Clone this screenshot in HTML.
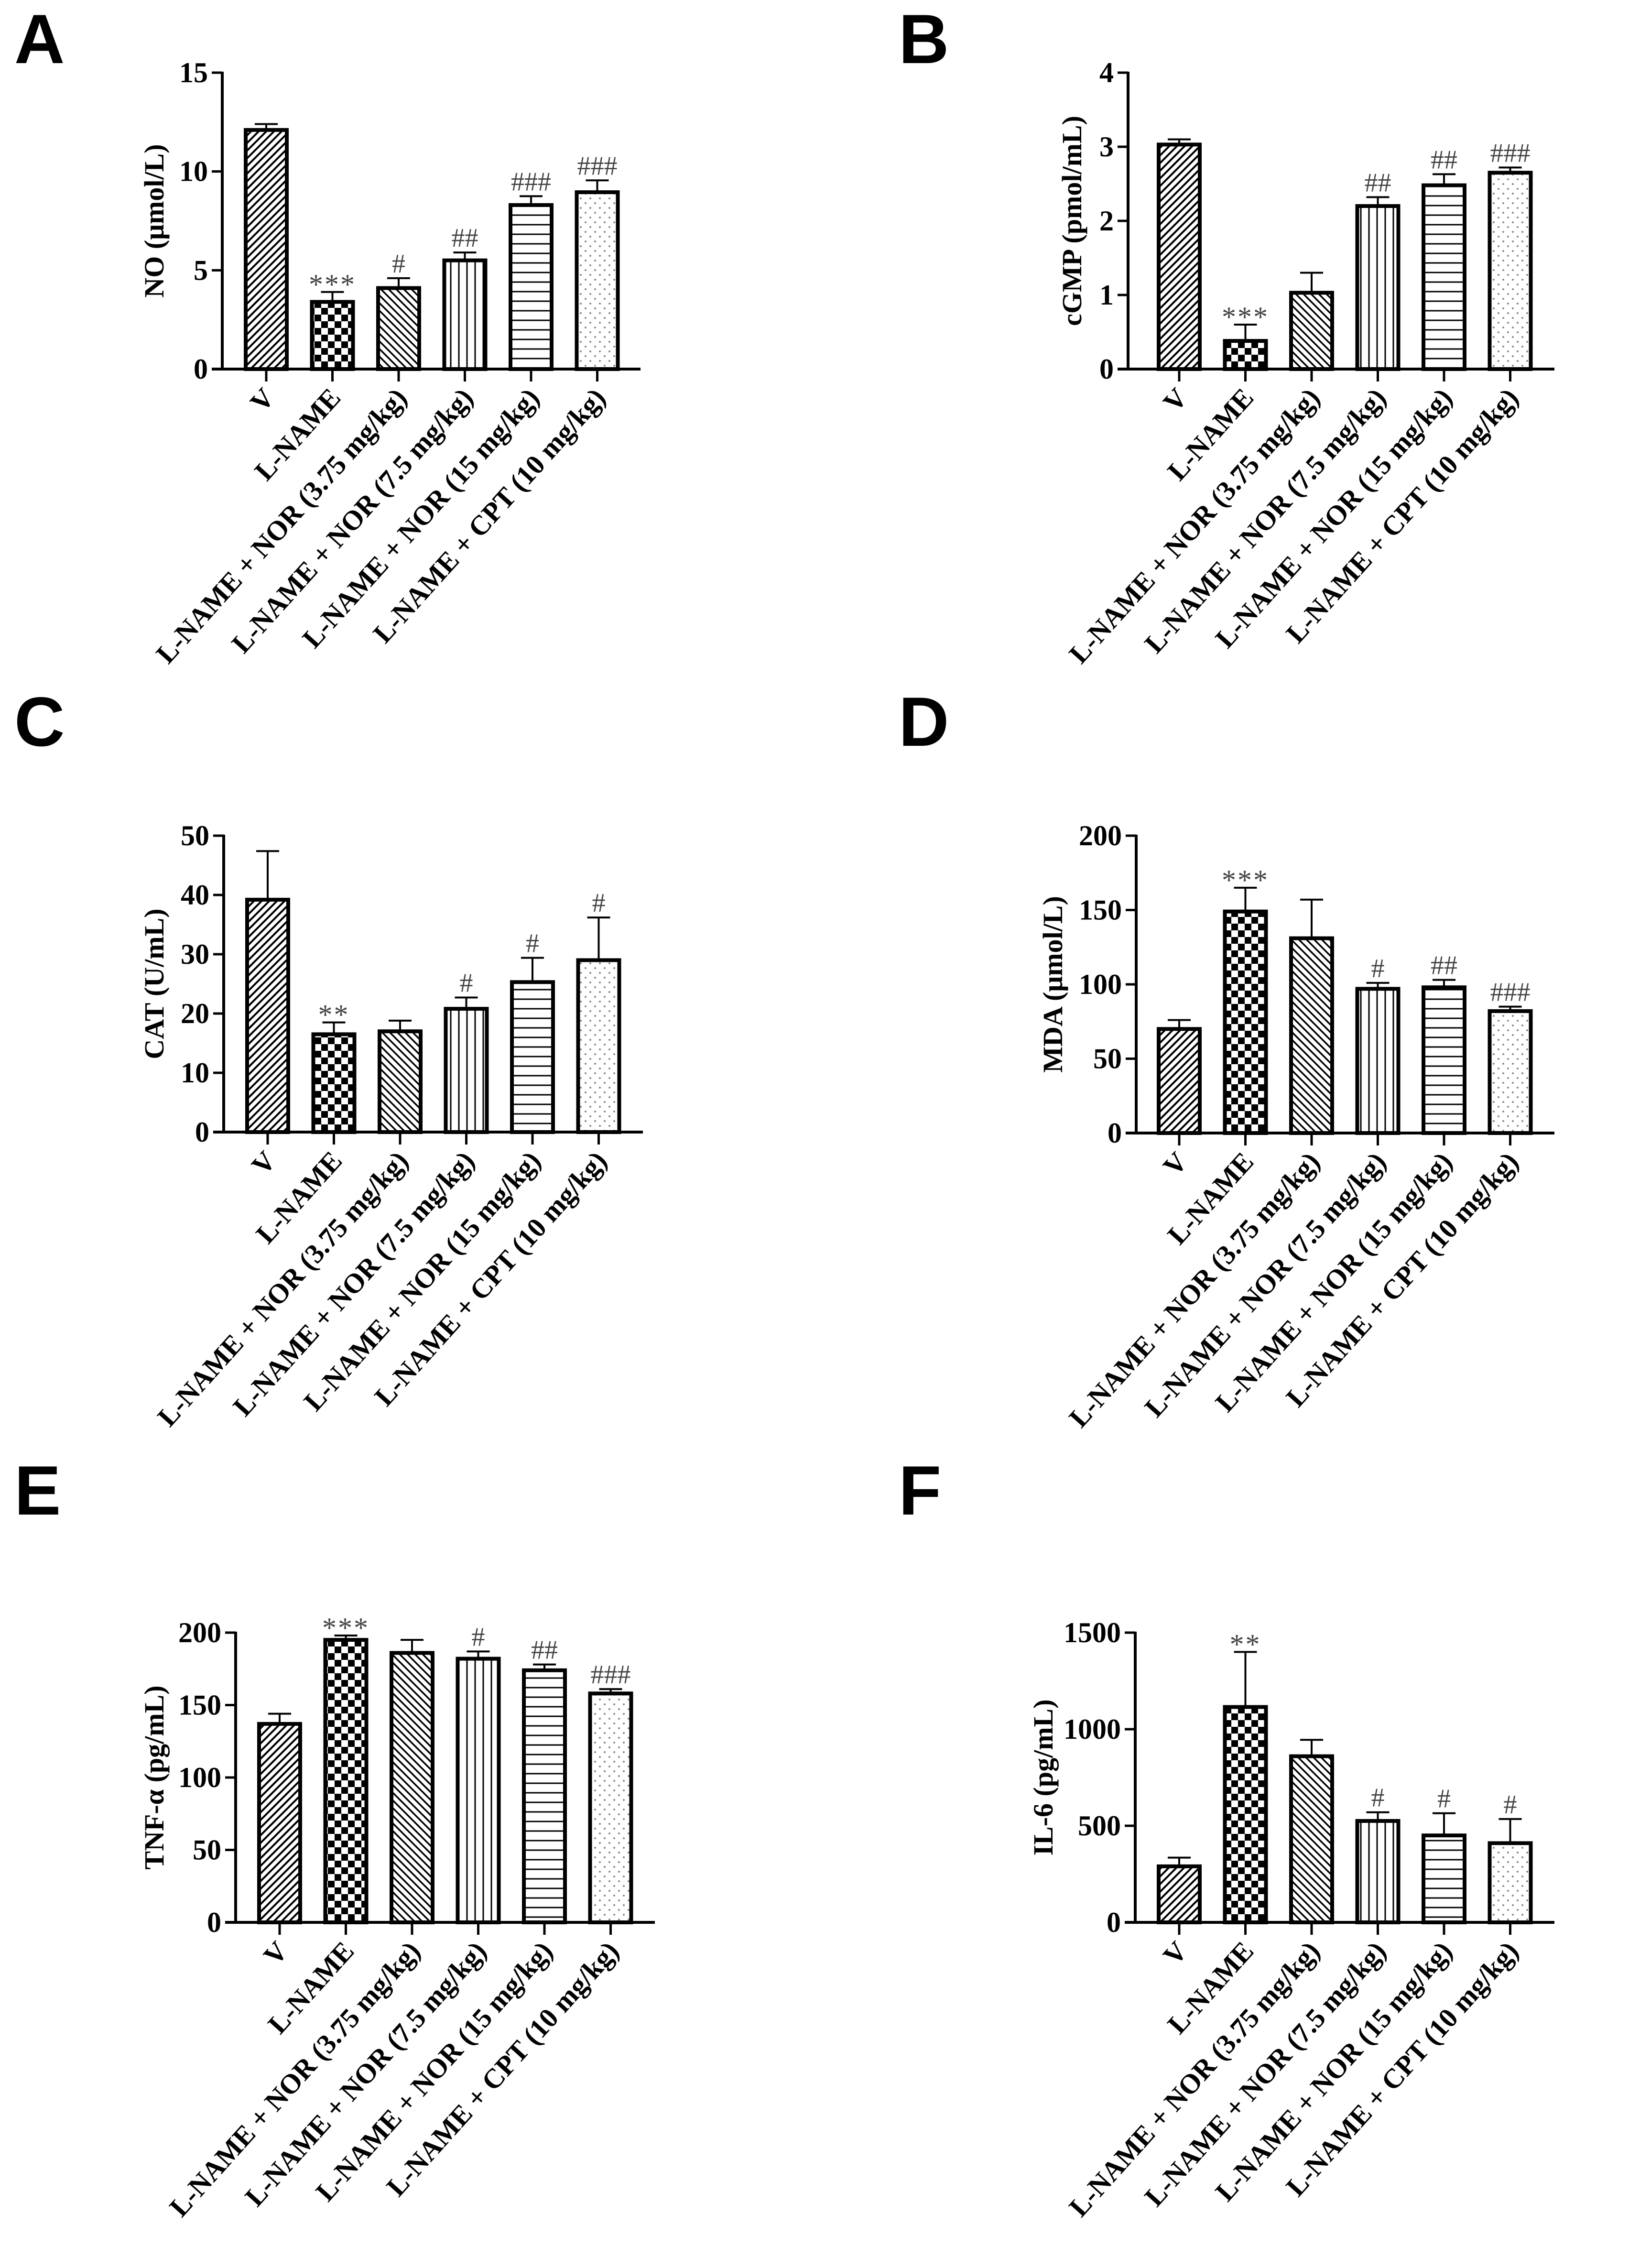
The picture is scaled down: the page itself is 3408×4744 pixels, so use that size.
<!DOCTYPE html>
<html><head><meta charset="utf-8"><style>
html,body{margin:0;padding:0;background:#fff;}
svg{display:block;}
</style></head><body>
<svg id="fig" xmlns="http://www.w3.org/2000/svg" width="3408" height="4744" viewBox="0 0 3408 4744">
<defs>
<pattern id="p-diag" patternUnits="userSpaceOnUse" width="16" height="16"><path d="M-4,4 l8,-8 M0,16 l16,-16 M12,20 l8,-8" stroke="#000" stroke-width="4"/></pattern>
<pattern id="p-check" patternUnits="userSpaceOnUse" width="28" height="28"><rect width="28" height="28" fill="#fff"/><rect width="14" height="14" fill="#000"/><rect x="14" y="14" width="14" height="14" fill="#000"/></pattern>
<pattern id="p-back" patternUnits="userSpaceOnUse" width="16" height="16"><path d="M-4,12 l8,8 M0,0 l16,16 M12,-4 l8,8" stroke="#000" stroke-width="3.5"/></pattern>
<pattern id="p-vert" patternUnits="userSpaceOnUse" width="17" height="17"><path d="M8,0 v17" stroke="#000" stroke-width="3"/></pattern>
<pattern id="p-horz" patternUnits="userSpaceOnUse" width="20" height="20"><path d="M0,10 h20" stroke="#000" stroke-width="3"/></pattern>
<pattern id="p-dot" patternUnits="userSpaceOnUse" width="20" height="20"><circle cx="5" cy="5" r="2" fill="#888"/><circle cx="15" cy="15" r="2" fill="#888"/></pattern>
</defs>
</svg>
<script>
const categories = ["V","L-NAME","L-NAME + NOR (3.75 mg/kg)","L-NAME + NOR (7.5 mg/kg)","L-NAME + NOR (15 mg/kg)","L-NAME + CPT (10 mg/kg)"];
const fills = ["p-diag","p-check","p-back","p-vert","p-horz","p-dot"];
const noValues = [12.1, 3.4, 4.1, 5.5, 8.3, 8.95];
const noErrors = [0.3, 0.5, 0.5, 0.4, 0.45, 0.6];
const noMarks = ["", "***", "#", "##", "###", "###"];
const noTicks = [0, 5, 10, 15];
const cgmpValues = [3.03, 0.38, 1.03, 2.2, 2.48, 2.65];
const cgmpErrors = [0.07, 0.22, 0.27, 0.12, 0.15, 0.07];
const cgmpMarks = ["", "***", "", "##", "##", "###"];
const cgmpTicks = [0, 1, 2, 3, 4];
const catValues = [39.2, 16.5, 17.0, 20.8, 25.3, 29.0];
const catErrors = [8.2, 2.0, 1.8, 1.9, 4.1, 7.2];
const catMarks = ["", "**", "", "#", "#", "#"];
const catTicks = [0, 10, 20, 30, 40, 50];
const mdaValues = [70, 149, 131, 97, 98, 82];
const mdaErrors = [6, 16, 26, 4, 5, 3];
const mdaMarks = ["", "***", "", "#", "##", "###"];
const mdaTicks = [0, 50, 100, 150, 200];
const tnfValues = [137, 195, 186, 182, 174, 158];
const tnfErrors = [7, 3, 9, 5, 4, 3];
const tnfMarks = ["", "***", "", "#", "##", "###"];
const tnfTicks = [0, 50, 100, 150, 200];
const il6Values = [290, 1115, 860, 525, 450, 410];
const il6Errors = [45, 285, 85, 45, 115, 125];
const il6Marks = ["", "**", "", "#", "#", "#"];
const il6Ticks = [0, 500, 1000, 1500];

const panels = [
 {letter:"A", lx:30, ly:132, ax:465, y0:772, yt:152, x1:1340, c0:557, title:"NO (μmol/L)", tx:322, v:noValues, e:noErrors, m:noMarks, t:noTicks},
 {letter:"B", lx:1880, ly:132, ax:2360, y0:772, yt:152, x1:3252, c0:2467, title:"cGMP (pmol/mL)", tx:2242, v:cgmpValues, e:cgmpErrors, m:cgmpMarks, t:cgmpTicks},
 {letter:"C", lx:30, ly:1560, ax:468, y0:2368, yt:1748, x1:1345, c0:560, title:"CAT (U/mL)", tx:322, v:catValues, e:catErrors, m:catMarks, t:catTicks},
 {letter:"D", lx:1880, ly:1560, ax:2377, y0:2370, yt:1748, x1:3252, c0:2467, title:"MDA (μmol/L)", tx:2202, v:mdaValues, e:mdaErrors, m:mdaMarks, t:mdaTicks},
 {letter:"E", lx:30, ly:3168, ax:493, y0:4021, yt:3415, x1:1370, c0:585, title:"TNF-α (pg/mL)", tx:322, v:tnfValues, e:tnfErrors, m:tnfMarks, t:tnfTicks},
 {letter:"F", lx:1880, ly:3168, ax:2375, y0:4021, yt:3415, x1:3252, c0:2467, title:"IL-6 (pg/mL)", tx:2182, v:il6Values, e:il6Errors, m:il6Marks, t:il6Ticks}
];
const NS = "http://www.w3.org/2000/svg";
const svg = document.getElementById("fig");
function mk(tag, attrs, parent){ const el=document.createElementNS(NS,tag); for(const k in attrs) el.setAttribute(k,attrs[k]); (parent||svg).appendChild(el); return el; }
const serif = '"Liberation Serif", serif';
const STEP = 138.5, BW = 86;
panels.forEach((p, pi) => {
  const g = mk("g", {});
  
  
  const max = p.t[p.t.length-1];
  const ys = v => p.y0 - v / max * (p.y0 - p.yt);
  const xs = i => p.c0 + i * STEP;
  const L = mk("text", {x:p.lx, y:p.ly, "font-family":'"Liberation Sans", sans-serif', "font-weight":"bold", "font-size":146}, g);
  L.textContent = p.letter;
  
  
  p.v.forEach((v, i) => {
    const cx = xs(i), top = ys(v), et = ys(v + p.e[i]);
    const eb = mk("path", {d:`M${cx},${top} V${et} M${cx-24},${et} H${cx+24}`, stroke:"#000", "stroke-width":4, fill:"none"}, g);
    
    
    const r = mk("rect", {x:cx-BW/2, y:top, width:BW, height:p.y0-top, fill:`url(#${fills[i]})`, stroke:"#000", "stroke-width":8}, g);
    
    
    if (p.m[i]) {
      const star = p.m[i].includes("*");
      const s = mk("text", {x:cx, y:et-12+(star?16:0), "text-anchor":"middle", "font-family":serif, "font-size":star?60:56, fill:"#444", "letter-spacing":star?3:0}, g);
      s.textContent = p.m[i];
      
      
    }
    const tk = mk("line", {x1:cx, x2:cx, y1:p.y0, y2:p.y0+26, stroke:"#000", "stroke-width":5}, g);
    
    
    const lb = mk("text", {x:0, y:0, transform:`translate(${cx+20},${p.y0+62}) rotate(-48)`, "text-anchor":"end", "font-family":serif, "font-weight":"bold", "font-size":58}, g);
    lb.textContent = categories[i];
    
    
  });
  const ya = mk("line", {x1:p.ax, x2:p.ax, y1:p.yt-2, y2:p.y0+3, stroke:"#000", "stroke-width":6}, g);
  
  
  const xa = mk("line", {x1:p.ax-22, x2:p.x1, y1:p.y0, y2:p.y0, stroke:"#000", "stroke-width":6}, g);
  
  
  p.t.forEach(t => {
    const y = ys(t);
    const tl = mk("line", {x1:p.ax-22, x2:p.ax, y1:y, y2:y, stroke:"#000", "stroke-width":5}, g);
    
    
    const tt = mk("text", {x:p.ax-30, y:y+20, "text-anchor":"end", "font-family":serif, "font-weight":"bold", "font-size":60}, g);
    tt.textContent = t;
    
    
  });
  const ty = (p.y0 + p.yt) / 2;
  const title = mk("text", {x:0, y:0, transform:`translate(${p.tx + 20},${ty}) rotate(-90)`, "text-anchor":"middle", "font-family":serif, "font-weight":"bold", "font-size":58}, g);
  title.textContent = p.title;
  
  
});
</script>
</body></html>
